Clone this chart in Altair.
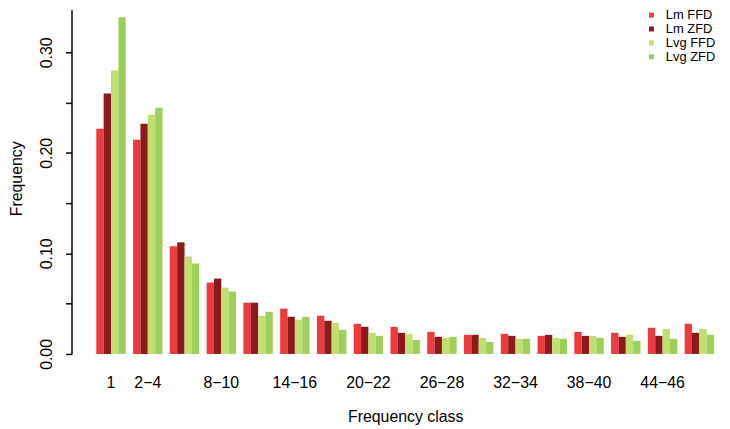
import altair as alt
import pandas as pd

classes = ["1", "2−4", "5−7", "8−10", "11−13", "14−16", "17−19", "20−22", "23−25",
           "26−28", "29−31", "32−34", "35−37", "38−40", "41−43", "44−46", "47−49"]
shown = ["1", "2−4", "8−10", "14−16", "20−22", "26−28", "32−34", "38−40", "44−46"]
series = ["Lm FFD", "Lm ZFD", "Lvg FFD", "Lvg ZFD"]
colors = ["#EC3A3F", "#8B1A1C", "#BFDF72", "#9FCF5B"]

lm_ffd = [0.224, 0.213, 0.107, 0.071, 0.051, 0.045, 0.038, 0.030, 0.027, 0.022, 0.019, 0.020, 0.018, 0.022, 0.021, 0.026, 0.030]
lm_zfd = [0.259, 0.229, 0.111, 0.075, 0.051, 0.037, 0.033, 0.027, 0.021, 0.017, 0.019, 0.018, 0.019, 0.018, 0.017, 0.018, 0.021]
lvg_ffd = [0.282, 0.238, 0.097, 0.066, 0.038, 0.034, 0.031, 0.021, 0.020, 0.016, 0.016, 0.015, 0.016, 0.018, 0.019, 0.025, 0.025]
lvg_zfd = [0.335, 0.245, 0.090, 0.062, 0.042, 0.037, 0.024, 0.018, 0.014, 0.017, 0.012, 0.015, 0.015, 0.016, 0.013, 0.015, 0.019]

rows = []
for s, vals in zip(series, [lm_ffd, lm_zfd, lvg_ffd, lvg_zfd]):
    for c, v in zip(classes, vals):
        rows.append({"cls": c, "series": s, "value": v})
df = pd.DataFrame(rows)

FONT = "Liberation Sans"

chart = alt.Chart(df).mark_bar().encode(
    x=alt.X("cls:N", sort=classes,
            scale=alt.Scale(paddingInner=0.2, paddingOuter=0),
            axis=alt.Axis(values=shown, title="Frequency class", labelAngle=0,
                          ticks=False, tickSize=0, domain=False,
                          labelFont=FONT, labelFontSize=16, labelColor="black",
                          labelBaseline="alphabetic", labelPadding=34,
                          labelOverlap=False,
                          titleFont=FONT, titleFontSize=16, titleFontWeight="normal",
                          titleColor="black", titleBaseline="alphabetic",
                          titleY=68)),
    xOffset=alt.XOffset("series:N", sort=series,
                        scale=alt.Scale(paddingInner=0, paddingOuter=0)),
    y=alt.Y("value:Q",
            scale=alt.Scale(domain=[0, 0.3425], nice=False, zero=True),
            axis=alt.Axis(values=[0, 0.05, 0.10, 0.15, 0.20, 0.25, 0.30],
                          labelExpr="round(datum.value*20) % 2 == 0 ? format(datum.value, '.2f') : ''",
                          title="Frequency", grid=False, offset=25,
                          tickSize=6, tickWidth=1.5, tickColor="black",
                          domainColor="black", domainWidth=1.5,
                          labelAngle=270, labelAlign="center", labelBaseline="alphabetic",
                          labelPadding=14, labelOverlap=False, labelFlush=False,
                          labelFont=FONT, labelFontSize=16, labelColor="black",
                          titleFont=FONT, titleFontSize=16, titleFontWeight="normal",
                          titleColor="black", titleAngle=270, titleAlign="center",
                          titleBaseline="alphabetic", titleX=-50, titleY=170)),
    color=alt.Color("series:N", sort=series,
                    scale=alt.Scale(domain=series, range=colors),
                    legend=alt.Legend(title=None, orient="none", legendX=553, legendY=-1,
                                      symbolType="square", symbolSize=25,
                                      symbolStrokeWidth=0, labelFont=FONT,
                                      labelFontSize=13, labelColor="black",
                                      rowPadding=0, labelOffset=8, padding=0)),
).properties(
    width=622.6, height=347,
    background="white",
    autosize=alt.AutoSizeParams(type="none"),
    padding={"left": 89, "top": 0, "right": 8, "bottom": 73},
).configure_view(stroke=None)

chart.save("out.html", embed_options={"renderer": "svg", "actions": False})
